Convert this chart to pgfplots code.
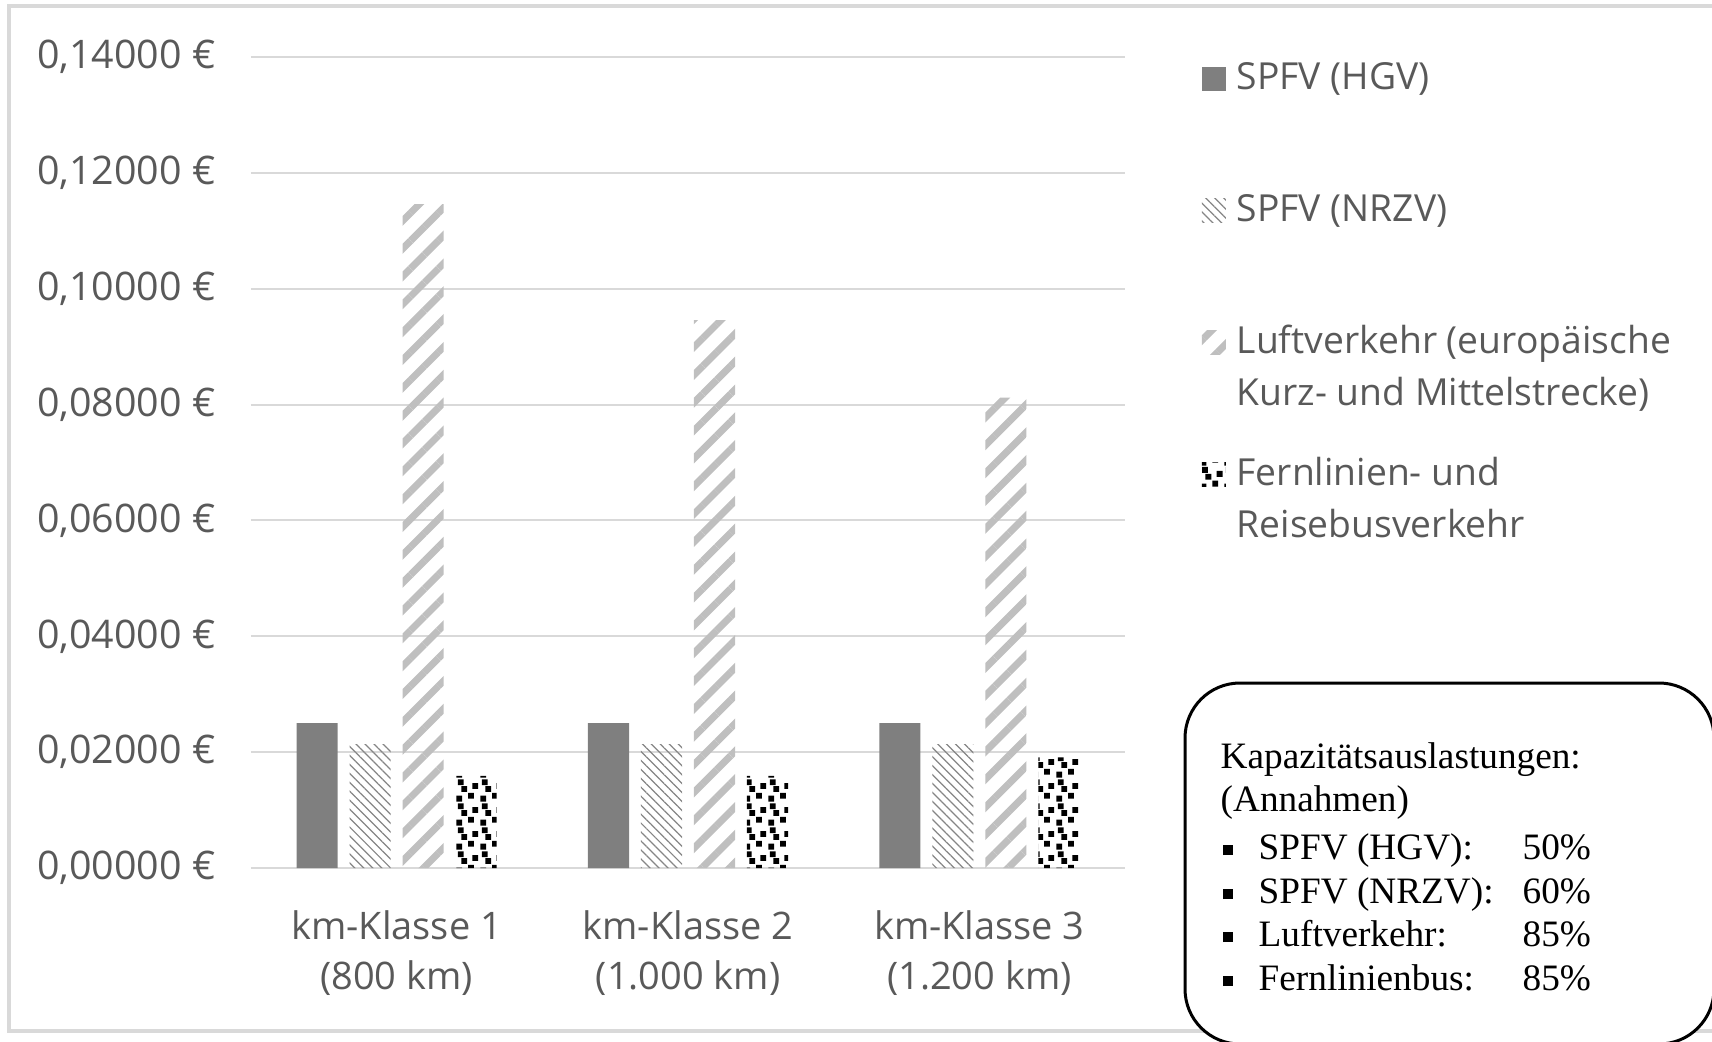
\documentclass[border=0pt]{standalone}
\usepackage{fontspec}
\setmainfont{Open Sans}
\newfontfamily\timesf{Liberation Serif}
\usepackage{pgfplots}
\pgfplotsset{compat=1.18}
\usetikzlibrary{patterns,patterns.meta}
\definecolor{txt}{HTML}{595959}
\definecolor{gridc}{HTML}{D9D9D9}
\definecolor{hgv}{HTML}{7F7F7F}
\definecolor{nrzv}{HTML}{858585}
\definecolor{luft}{HTML}{BFBFBF}
\pgfdeclarepatternformonly{confetti}{\pgfqpoint{0mm}{0mm}}{\pgfqpoint{2.4mm}{2.4mm}}{\pgfqpoint{2.4mm}{2.4mm}}{%
  \pgfpathrectangle{\pgfqpoint{0.05mm}{0.05mm}}{\pgfqpoint{0.6mm}{0.6mm}}%
  \pgfpathrectangle{\pgfqpoint{1.25mm}{0.35mm}}{\pgfqpoint{0.6mm}{0.6mm}}%
  \pgfpathrectangle{\pgfqpoint{0.55mm}{1.05mm}}{\pgfqpoint{0.6mm}{0.6mm}}%
  \pgfpathrectangle{\pgfqpoint{1.7mm}{1.35mm}}{\pgfqpoint{0.6mm}{0.6mm}}%
  \pgfpathrectangle{\pgfqpoint{0.2mm}{1.75mm}}{\pgfqpoint{0.6mm}{0.6mm}}%
  \pgfusepath{fill}}
\newcommand\ls{\rule[-1.3mm]{0pt}{5.2mm}}
\newcommand\xs{\rule[-1.2mm]{0pt}{5.0mm}}
\newcommand\lab{\fontsize{10.6pt}{5.2mm}\selectfont}
\newcommand\tms{\timesf\fontsize{10.6pt}{12pt}\selectfont}
\begin{document}
\begin{tikzpicture}
\useasboundingbox (0,0) rectangle (171.2mm,104.1mm);
\clip (0,0) rectangle (171.2mm,104.1mm);
\draw[gridc, line width=0.45mm] (0.9mm,1.0mm) rectangle (175mm,103.5mm);
\begin{axis}[
  at={(25.1mm,17.3mm)}, anchor=south west,
  scale only axis, width=87.4mm, height=81.1mm,
  xmin=-0.5, xmax=2.5, ymin=0, ymax=0.14,
  axis line style={draw=none},
  major tick length=0pt,
  ymajorgrids, grid style={gridc, line width=0.2mm},
  xtick={0,1,2},
  xticklabels={{km-Klasse 1\xs\\(800 km)\xs},{km-Klasse 2\xs\\(1.000 km)\xs},{km-Klasse 3\xs\\(1.200 km)\xs}},
  ytick={0,0.02,0.04,0.06,0.08,0.1,0.12,0.14},
  /pgf/number format/assume math mode=true,
  yticklabel={\pgfmathprintnumber[fixed,fixed zerofill,precision=5,use comma]{\tick}~€},
  tick label style={text=txt},
  xticklabel style={font=\fontsize{10.8pt}{5.0mm}\selectfont, anchor=north, inner sep=0pt, align=center, yshift=-3.3mm},
  yticklabel style={font=\fontsize{11.2pt}{5.0mm}\selectfont, anchor=east, inner sep=0pt, xshift=-3.5mm},
  legend image code/.code={\fill[#1] (0mm,0.8mm) rectangle (2.4mm,3.2mm);},
  legend cell align=left,
  legend style={at={(1.0870,1.0086)}, anchor=north west, draw=none, fill=none,
    inner sep=0pt, row sep=3.55mm, column sep=1.1mm,
    nodes={inner sep=0pt, text=txt, font=\lab, align=left}},
]
\addplot[ybar, bar width=0.141, bar shift=-0.273, fill=hgv, draw=none]
  coordinates {(0,0.025) (1,0.025) (2,0.025)};
\addlegendentry{SPFV (HGV)\ls\\\ls}
\addplot[ybar, bar width=0.141, bar shift=-0.091, draw=none,
  pattern={Lines[angle=-45, distance=1.8pt, line width=0.35pt]}, pattern color=nrzv]
  coordinates {(0,0.0214) (1,0.0214) (2,0.0214)};
\addlegendentry{SPFV (NRZV)\ls\\\ls}
\addplot[ybar, bar width=0.141, bar shift=0.091, draw=none,
  pattern={Lines[angle=45, distance=5.6pt, line width=2pt]}, pattern color=luft]
  coordinates {(0,0.1146) (1,0.0946) (2,0.0812)};
\addlegendentry{Luftverkehr (europäische\ls\\Kurz- und Mittelstrecke)\ls}
\addplot[ybar, bar width=0.141, bar shift=0.273, draw=none,
  pattern=confetti, pattern color=black]
  coordinates {(0,0.0159) (1,0.0159) (2,0.0191)};
\addlegendentry{Fernlinien- und\ls\\Reisebusverkehr\ls}
\end{axis}
\draw[black, line width=0.3mm, rounded corners=5.5mm, fill=white] (118.5mm,-0.3mm) rectangle (171.4mm,35.8mm);
\begin{scope}[every node/.style={anchor=base west, inner sep=0pt, font=\tms}]
\node at (122.0mm,27.3mm) {Kapazitätsauslastungen:};
\node at (122.0mm,23.0mm) {(Annahmen)};
\foreach \y/\a/\b in {18.2/SPFV (HGV):/50\%, 13.8/SPFV (NRZV):/60\%, 9.5/Luftverkehr:/85\%, 5.1/Fernlinienbus:/85\%}{
  \node at (122.2mm,\y mm) {\rule[0.4mm]{1.0mm}{1.0mm}};
  \node at (125.8mm,\y mm) {\a};
  \node at (152.2mm,\y mm) {\b};
}
\end{scope}
\end{tikzpicture}
\end{document}
